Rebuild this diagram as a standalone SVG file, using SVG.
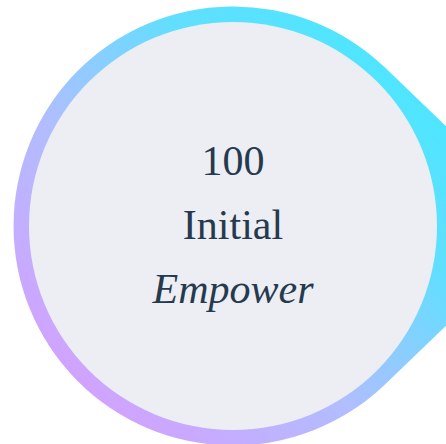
<svg xmlns="http://www.w3.org/2000/svg" width="446" height="444" viewBox="0 0 446 444">
  <defs>
    <linearGradient id="ring" gradientUnits="userSpaceOnUse" x1="420" y1="40" x2="60" y2="420">
      <stop offset="0" stop-color="#48E8FF"/>
      <stop offset="0.3" stop-color="#62DEFF"/>
      <stop offset="0.6" stop-color="#B0BEFF"/>
      <stop offset="1" stop-color="#D89CFF"/>
    </linearGradient>
    <style>
      .t { font-family: "Liberation Serif", "Times New Roman", serif; font-size: 42px; fill: #263A4F; text-anchor: middle; }
    </style>
  </defs>
  <rect width="446" height="444" fill="#FFFFFF"/>
  <g id="node-empower">
    <path d="M 385 67.6 L 550 226 L 385 384.4 A 219.5 219.5 0 1 1 385 67.6 Z" fill="url(#ring)"/>
    <circle cx="233" cy="226" r="204" fill="#ECEEF3"/>
    <text class="t" x="233" y="175">100</text>
    <text class="t" x="233" y="239">Initial</text>
    <text class="t" x="233" y="303" font-style="italic">Empower</text>
  </g>
  <g id="connectors"/>
</svg>
